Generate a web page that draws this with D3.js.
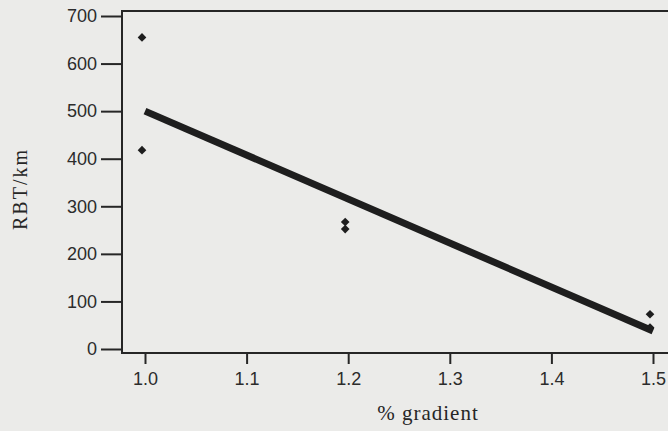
<!DOCTYPE html>
<html>
<head>
<meta charset="utf-8">
<script src="https://cdn.jsdelivr.net/npm/d3@7"></script>
<style>
  body { margin: 0; background: #ebebe9; }
  svg { display: block; }
</style>
</head>
<body>
<script>
// values
var gradients = [1.0, 1.0, 1.2, 1.2, 1.5, 1.5];
var rbtPerKm = [655, 418, 267, 252, 73, 45];
// fitted line, two ends as drawn
var fitX = [1.0, 1.5];
var fitY = [500, 38];
var xTicks = [1.0, 1.1, 1.2, 1.3, 1.4, 1.5];
var yTicks = [0, 100, 200, 300, 400, 500, 600, 700];

var W = 668, H = 431;
var frame = {left: 122, top: 11, bottom: 353};

var svg = d3.select("body").append("svg")
  .attr("width", W).attr("height", H);

var x = d3.scaleLinear().domain([1.0, 1.5]).range([145, 653]);
var y = d3.scaleLinear().domain([0, 700]).range([349, 16]);

var ink = "#262626";

// frame: left, top, bottom (open on the right)
svg.append("path")
  .attr("d", "M" + W + "," + frame.top + "H" + frame.left + "V" + frame.bottom + "H" + W)
  .attr("fill", "none").attr("stroke", ink).attr("stroke-width", 2);

var yAxis = svg.append("g")
  .attr("transform", "translate(" + frame.left + ",0)")
  .call(d3.axisLeft(y).tickValues(yTicks).tickSize(21).tickPadding(4).tickFormat(d3.format("d")));
yAxis.select(".domain").remove();

var xAxis = svg.append("g")
  .attr("transform", "translate(0," + frame.bottom + ")")
  .call(d3.axisBottom(x).tickValues(xTicks).tickSize(11).tickPadding(8).tickFormat(d3.format(".1f")));
xAxis.select(".domain").remove();

svg.selectAll(".tick line").attr("stroke", ink).attr("stroke-width", 2);
svg.selectAll(".tick text")
  .attr("fill", "#2c2c2c")
  .style("font-family", "'Liberation Sans', Arial, sans-serif")
  .style("font-size", "18px");

// regression line
svg.append("line")
  .attr("x1", x(fitX[0])).attr("y1", y(fitY[0]))
  .attr("x2", x(fitX[1])).attr("y2", y(fitY[1]))
  .attr("stroke", "#1e1e1e").attr("stroke-width", 7);

// points
var diamond = d3.symbol().type(d3.symbolDiamond2 || d3.symbolDiamond).size(48);
svg.selectAll("path.pt")
  .data(gradients.map(function(g, i){ return [g, rbtPerKm[i]]; }))
  .enter().append("path")
  .attr("class", "pt")
  .attr("d", diamond)
  .attr("transform", function(d){ return "translate(" + (x(d[0]) - 3) + "," + y(d[1]) + ")"; })
  .attr("fill", "#1e1e1e");

// axis titles
svg.append("text")
  .attr("x", 428).attr("y", 420)
  .attr("text-anchor", "middle")
  .style("font-family", "'Liberation Serif', 'Times New Roman', serif")
  .style("font-size", "21px")
  .style("letter-spacing", "1px")
  .attr("fill", "#262626")
  .text("% gradient");

svg.append("text")
  .attr("transform", "translate(27,189) rotate(-90)")
  .attr("text-anchor", "middle")
  .style("font-family", "'Liberation Serif', 'Times New Roman', serif")
  .style("font-size", "20px")
  .style("letter-spacing", "2px")
  .attr("fill", "#262626")
  .text("RBT/km");
</script>
</body>
</html>
